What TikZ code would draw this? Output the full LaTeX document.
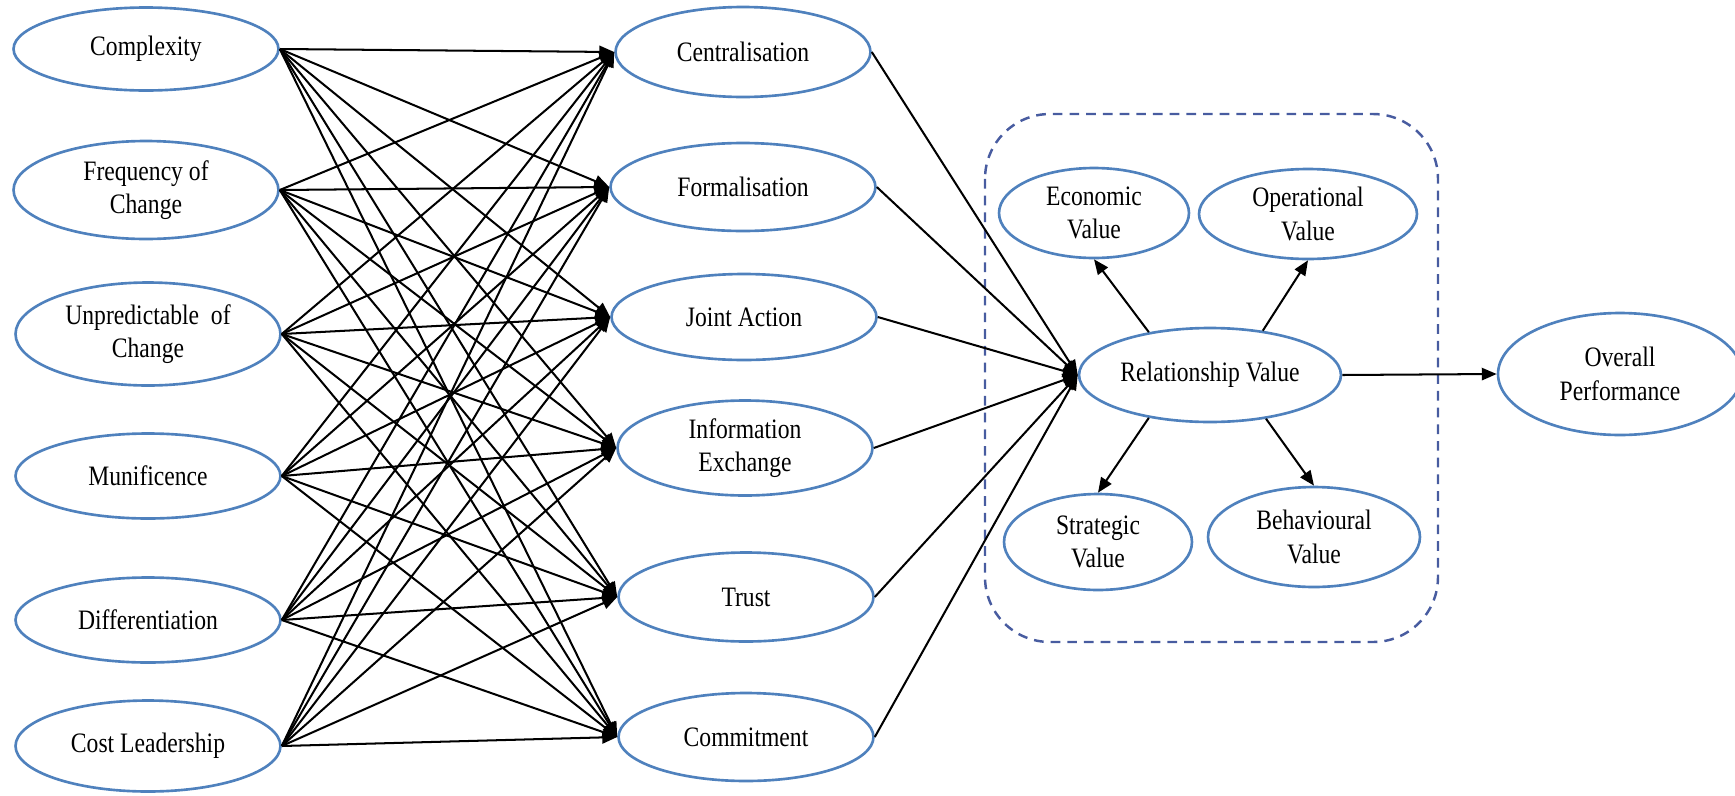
\documentclass[tikz,border=0pt]{standalone}
\usepackage{fontspec}
\setmainfont{Liberation Serif}[FakeStretch=0.84]
\usetikzlibrary{arrows.meta,shapes.geometric}
\definecolor{nodeblue}{RGB}{79,129,189}
\definecolor{boxblue}{RGB}{72,92,160}

\tikzset{
  var/.style={ellipse, draw=nodeblue, line width=1.5pt, fill=white, inner sep=0pt,
    align=center, font=\fontsize{16}{19}\selectfont},
  link/.style={-{Triangle[length=8.5pt,width=7pt]}, line width=1.15pt},
}

\begin{document}
\begin{tikzpicture}[x=0.02cm, y=-0.02cm]
    \useasboundingbox (0,0) rectangle (1735,795);

    % Relationship value group
    \draw[boxblue, line width=1.4pt, dash pattern=on 5.5pt off 4pt, rounded corners=1.3cm]
        (985,114) rectangle (1438,642);

    % Antecedents
    \node[var, minimum width=5.3cm, minimum height=1.66cm] (cmplx)  at (146,49)  {Complexity};
    \node[var, minimum width=5.3cm, minimum height=1.96cm] (freq)   at (146,190) {Frequency of\\Change};
    \node[var, minimum width=5.3cm, minimum height=2.06cm] (unpred) at (148,334) {Unpredictable\ \ of\\Change};
    \node[var, minimum width=5.3cm, minimum height=1.7cm]  (munif)  at (148,476) {Munificence};
    \node[var, minimum width=5.3cm, minimum height=1.7cm]  (diff)   at (148,620) {Differentiation};
    \node[var, minimum width=5.3cm, minimum height=1.82cm] (cost)   at (148,746) {Cost Leadership};

    % Relational mechanisms
    \node[var, minimum width=5.1cm, minimum height=1.8cm]  (cent)   at (743,52)  {Centralisation};
    \node[var, minimum width=5.3cm, minimum height=1.76cm] (form)   at (743,187) {Formalisation};
    \node[var, minimum width=5.3cm, minimum height=1.72cm] (joint)  at (744,317) {Joint Action};
    \node[var, minimum width=5.1cm, minimum height=1.9cm]  (info)   at (745,448) {Information\\Exchange};
    \node[var, minimum width=5.1cm, minimum height=1.78cm] (trust)  at (746,597) {Trust};
    \node[var, minimum width=5.1cm, minimum height=1.76cm] (commit) at (746,737) {Commitment};

    % Relationship value and its dimensions
    \node[var, minimum width=5.24cm, minimum height=1.88cm] (relval) at (1210,375) {Relationship Value};
    \node[var, minimum width=3.8cm, minimum height=1.8cm]   (econ)   at (1094,213) {Economic\\Value};
    \node[var, minimum width=4.36cm, minimum height=1.8cm]  (oper)   at (1308,214) {Operational\\Value};
    \node[var, minimum width=3.76cm, minimum height=1.92cm] (strat)  at (1098,542) {Strategic\\Value};
    \node[var, minimum width=4.24cm, minimum height=2cm]    (behav)  at (1314,537) {Behavioural\\Value};

    % Outcome
    \node[var, minimum width=4.88cm, minimum height=2.44cm] (overall) at (1620,374) {Overall\\Performance};

    % Antecedents to mechanisms
    \foreach \src in {cmplx,freq,unpred,munif,diff,cost}
        \foreach \dst in {cent,form,joint,info,trust,commit}
            \draw[link] (\src.east) -- (\dst.west);

    % Mechanisms to relationship value
    \foreach \src in {cent,form,joint,info,trust,commit}
        \draw[link] (\src.east) -- (relval.west);

    % Dimensions
    \draw[link] (relval.145) -- (econ.south);
    \draw[link] (relval.40) -- (oper.south);
    \draw[link] (relval.215) -- (strat.north);
    \draw[link] (relval.322) -- (behav.north);

    \draw[link] (relval.east) -- (overall.west);
\end{tikzpicture}
\end{document}
